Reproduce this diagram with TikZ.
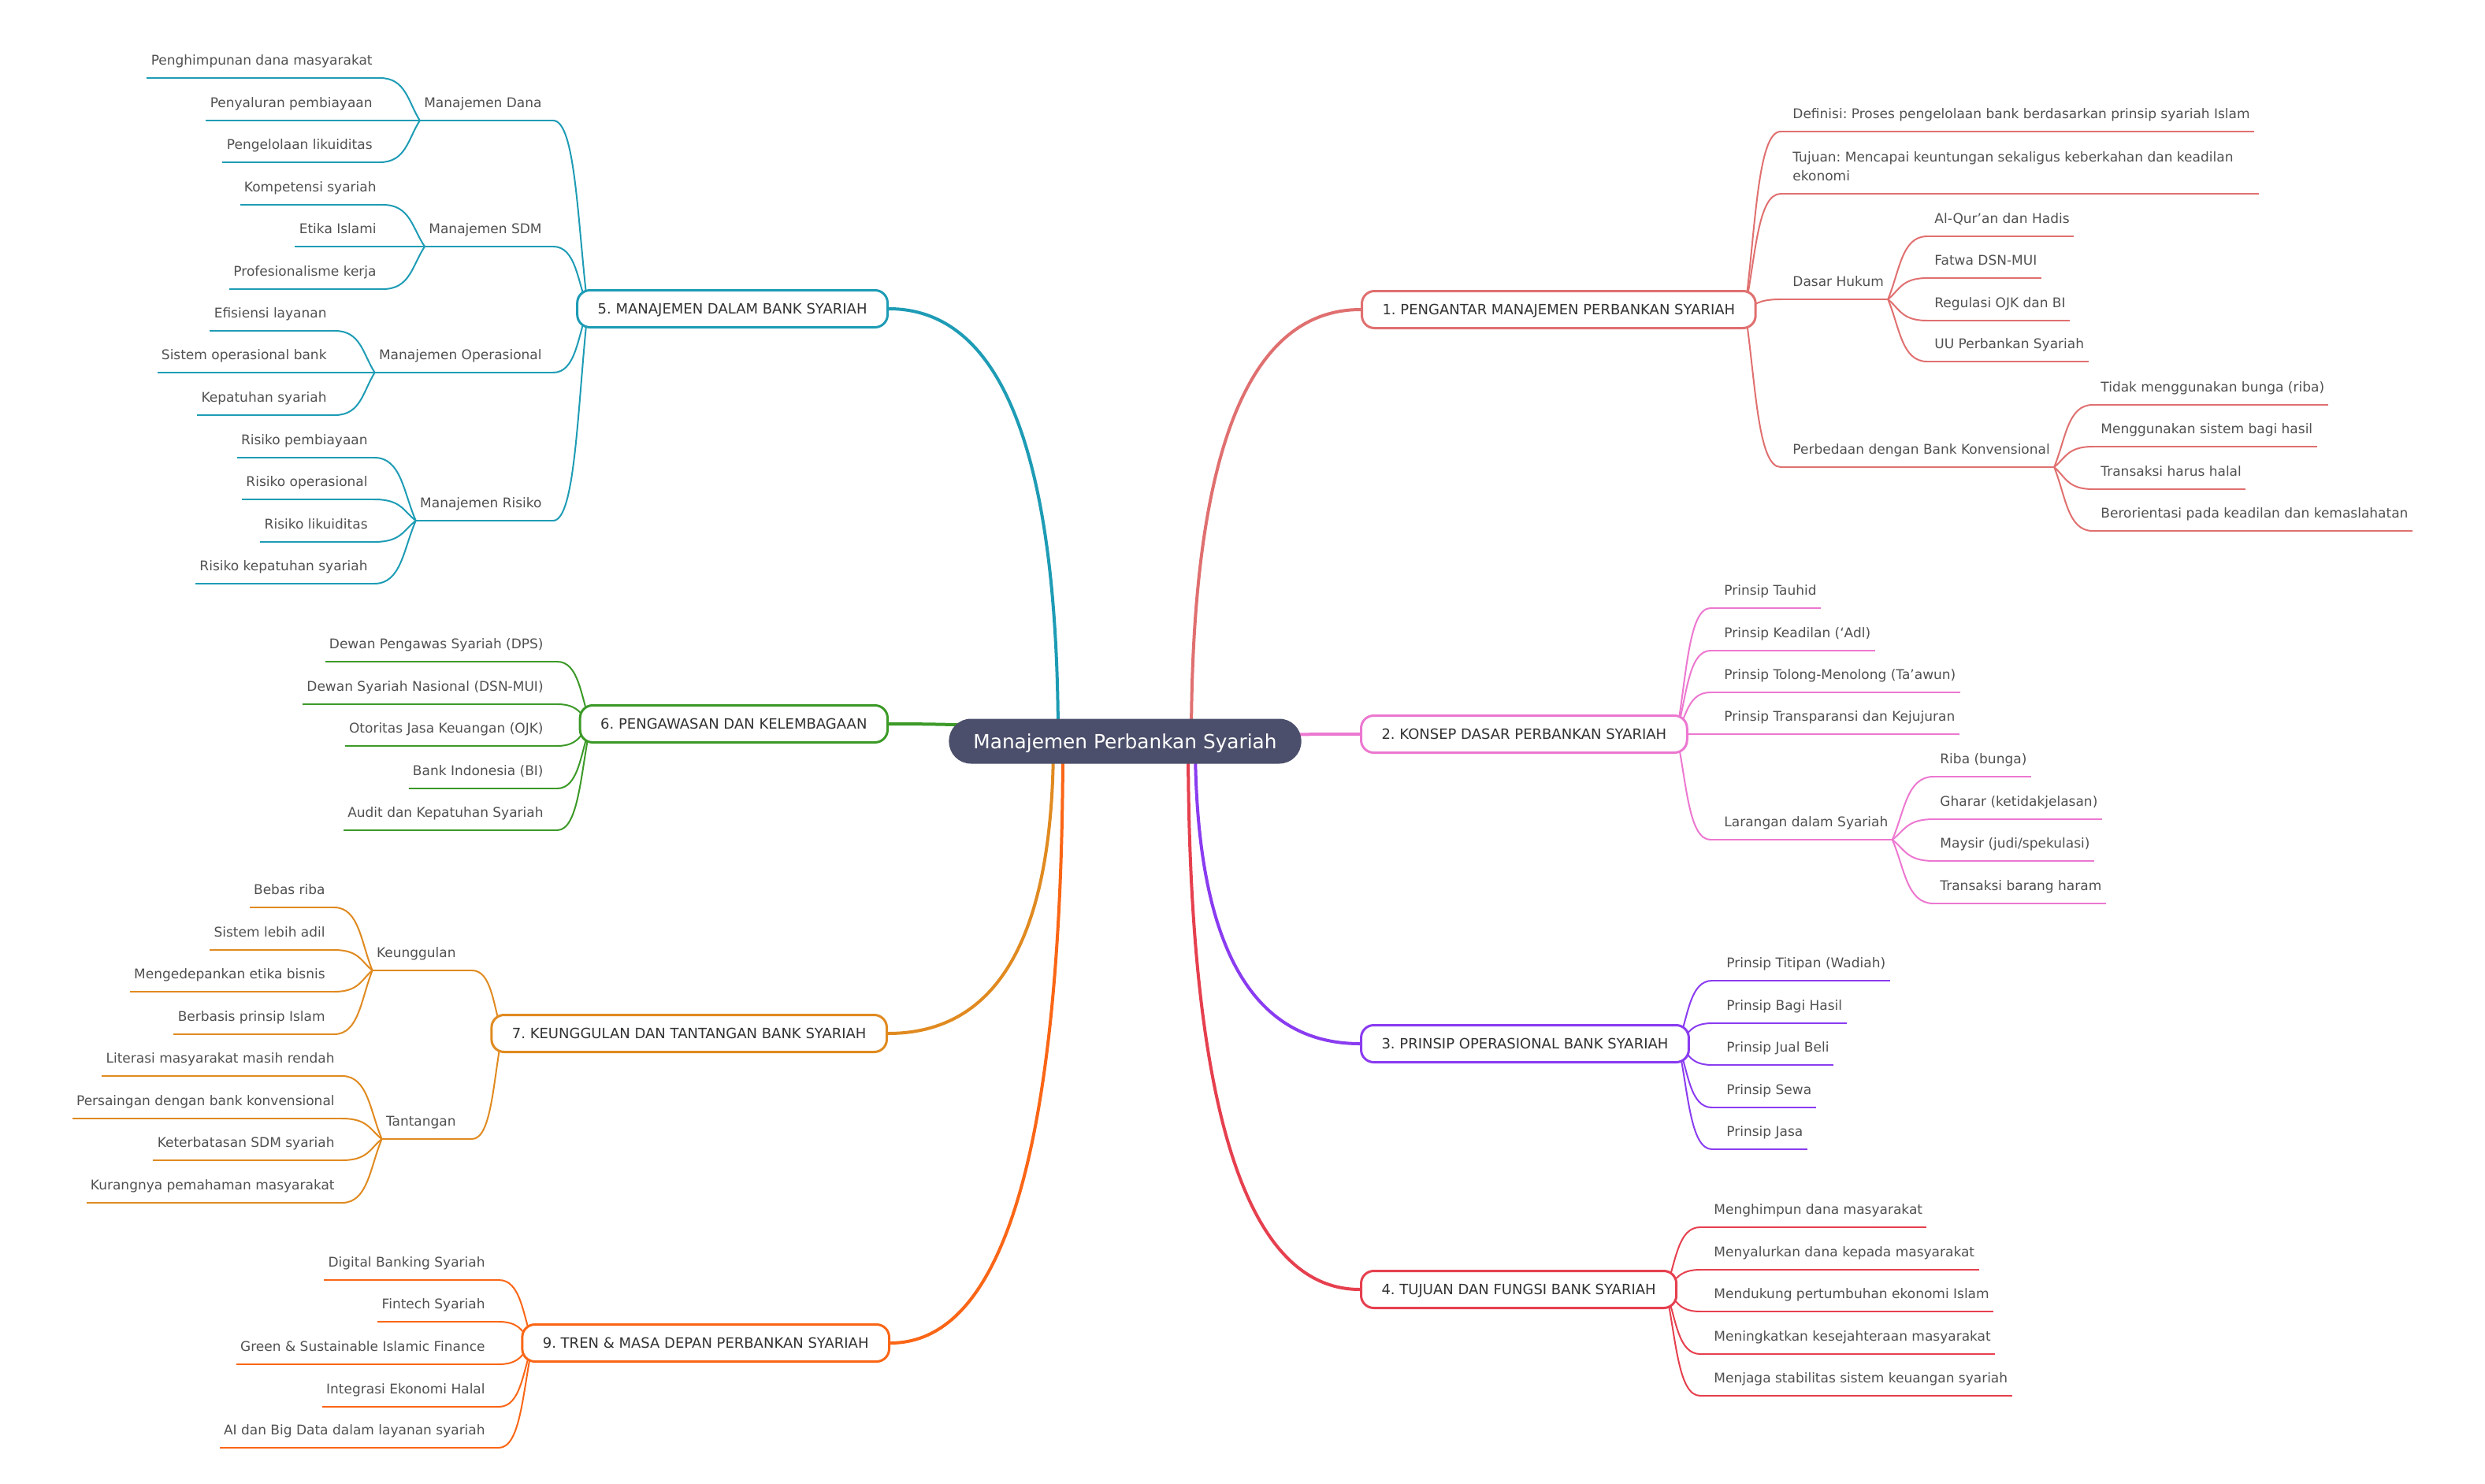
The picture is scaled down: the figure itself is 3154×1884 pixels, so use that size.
\documentclass[tikz,border=0pt]{standalone}
\usepackage{fontspec}
\setmainfont{DejaVu Sans}
\usetikzlibrary{calc}
\pgfdeclarelayer{bg}
\pgfsetlayers{bg,main}
\definecolor{cA}{HTML}{E07070}
\definecolor{cB}{HTML}{EC78D0}
\definecolor{cC}{HTML}{8A3CF0}
\definecolor{cD}{HTML}{E6404F}
\definecolor{cE}{HTML}{1E9CB5}
\definecolor{cF}{HTML}{3C9A28}
\definecolor{cG}{HTML}{E08A20}
\definecolor{cH}{HTML}{FA6616}
\definecolor{cfill}{HTML}{4B4F6B}
\definecolor{ltext}{HTML}{505050}
\definecolor{btext}{HTML}{333333}
\tikzset{
  leaf/.style={inner sep=0pt, text depth=8pt, text=ltext, font=\fontsize{8.5pt}{12pt}\selectfont},
  sub/.style={line width=1pt},
  mainline/.style={line width=2pt},
  cv/.style={to path={let \p1=(\tikztostart),\p2=(\tikztotarget) in
     .. controls ({\x1+0.3*(\x2-\x1)},{\y1+0.45*(\y2-\y1)}) and ({\x1+0.35*(\x2-\x1)},\y2) .. (\tikztotarget)}},
  mcv/.style={to path={let \p1=(\tikztostart),\p2=(\tikztotarget) in
     .. controls (\x1,{\y1+0.6667*(\y2-\y1)}) and ({\x1+0.3333*(\x2-\x1)},\y2) .. (\tikztotarget)}},
  branch/.style={draw=#1, line width=1.5pt, fill=white, rounded corners=8pt,
     minimum height=23.5pt, inner xsep=13pt, inner ysep=0pt, text height=6.56pt,
     text depth=0pt, text=btext, font=\fontsize{9pt}{11pt}\selectfont},
  central/.style={fill=cfill, text=white, rounded corners=14pt, minimum height=28.5pt,
     inner xsep=15.5pt, inner ysep=0pt, text height=9pt, text depth=0pt,
     font=\fontsize{12.4pt}{15pt}\selectfont}
}
\newcommand\leafR[7]{%
  \node[leaf,anchor=south west] (#1) at (#4,#5) {#7};
  \coordinate (#1-c) at ($(#1.south west)+(-#6,0)$);
  \coordinate (#1-e) at ($(#1.south east)+(5,0)$);
  \begin{pgfonlayer}{bg}
    \draw[#2,sub] (#1-c) -- (#1-e);
    \draw[#2,sub] (#3) to[cv] (#1-c);
  \end{pgfonlayer}}
\newcommand\leafL[7]{%
  \node[leaf,anchor=south east] (#1) at (#4,#5) {#7};
  \coordinate (#1-c) at ($(#1.south east)+(#6,0)$);
  \coordinate (#1-e) at ($(#1.south west)+(-5,0)$);
  \begin{pgfonlayer}{bg}
    \draw[#2,sub] (#1-c) -- (#1-e);
    \draw[#2,sub] (#3) to[cv] (#1-c);
  \end{pgfonlayer}}
\begin{document}
\frenchspacing
\begin{tikzpicture}[x=0.5pt,y=-0.5pt]
\useasboundingbox (0,0) rectangle (3154,1884);
% central
\node[central] (root) at (1428,941) {Manajemen Perbankan Syariah};
\coordinate (sA) at (1512,941);
\coordinate (sB) at (1512,941);
\coordinate (sC) at (1517,941);
\coordinate (sD) at (1508,941);
\coordinate (sE) at (1343,941);
\coordinate (sF) at (1343,941);
\coordinate (sG) at (1337,941);
\coordinate (sH) at (1349,941);
% branches
\node[branch=cA, anchor=west] (bA) at (1727,393) {1. PENGANTAR MANAJEMEN PERBANKAN SYARIAH};
\node[branch=cB, anchor=west] (bB) at (1726,932) {2. KONSEP DASAR PERBANKAN SYARIAH};
\node[branch=cC, anchor=west] (bC) at (1726,1325) {3. PRINSIP OPERASIONAL BANK SYARIAH};
\node[branch=cD, anchor=west] (bD) at (1726,1637) {4. TUJUAN DAN FUNGSI BANK SYARIAH};
\node[branch=cE, anchor=east] (bE) at (1128,392) {5. MANAJEMEN DALAM BANK SYARIAH};
\node[branch=cF, anchor=east] (bF) at (1128,919) {6. PENGAWASAN DAN KELEMBAGAAN};
\node[branch=cG, anchor=east] (bG) at (1127,1312) {7. KEUNGGULAN DAN TANTANGAN BANK SYARIAH};
\node[branch=cH, anchor=east] (bH) at (1130,1705) {9. TREN \& MASA DEPAN PERBANKAN SYARIAH};
\coordinate (bA-s) at ($(bA.east)+(-15,0)$);
\coordinate (bB-s) at ($(bB.east)+(-15,0)$);
\coordinate (bC-s) at ($(bC.east)+(-15,0)$);
\coordinate (bD-s) at ($(bD.east)+(-15,0)$);
\coordinate (bE-s) at ($(bE.west)+(15,0)$);
\coordinate (bF-s) at ($(bF.west)+(15,0)$);
\coordinate (bG-s) at ($(bG.west)+(15,0)$);
\coordinate (bH-s) at ($(bH.west)+(15,0)$);
\begin{pgfonlayer}{bg}
\draw[cA,mainline] (sA) to[mcv] (bA.west);
\draw[cB,mainline] (sB) to[mcv] (bB.west);
\draw[cC,mainline] (sC) to[mcv] (bC.west);
\draw[cD,mainline] (sD) to[mcv] (bD.west);
\draw[cE,mainline] (sE) to[mcv] (bE.east);
\draw[cF,mainline] (sF) to[mcv] (bF.east);
\draw[cG,mainline] (sG) to[mcv] (bG.east);
\draw[cH,mainline] (sH) to[mcv] (bH.east);
\end{pgfonlayer}
% branch 1
\leafR{nA1}{cA}{bA-s}{2275}{167}{15}{Definisi: Proses pengelolaan bank berdasarkan prinsip syariah Islam}
\leafR{nA2}{cA}{bA-s}{2275}{246}{15}{\parbox[b]{293pt}{\raggedright Tujuan: Mencapai keuntungan sekaligus keberkahan dan keadilan\\ekonomi}}
\leafR{nA3}{cA}{bA-s}{2275}{380}{15}{Dasar Hukum}
\leafR{nA31}{cA}{nA3-e}{2455}{300}{9}{Al-Qur’an dan Hadis}
\leafR{nA32}{cA}{nA3-e}{2455}{353}{9}{Fatwa DSN-MUI}
\leafR{nA33}{cA}{nA3-e}{2455}{407}{9}{Regulasi OJK dan BI}
\leafR{nA34}{cA}{nA3-e}{2455}{459}{9}{UU Perbankan Syariah}
\leafR{nA4}{cA}{bA-s}{2275}{593}{15}{Perbedaan dengan Bank Konvensional}
\leafR{nA41}{cA}{nA4-e}{2666}{514}{10}{Tidak menggunakan bunga (riba)}
\leafR{nA42}{cA}{nA4-e}{2666}{567}{10}{Menggunakan sistem bagi hasil}
\leafR{nA43}{cA}{nA4-e}{2666}{621}{10}{Transaksi harus halal}
\leafR{nA44}{cA}{nA4-e}{2666}{674}{10}{Berorientasi pada keadilan dan kemaslahatan}
% branch 2
\leafR{nB1}{cB}{bB-s}{2188}{772}{17}{Prinsip Tauhid}
\leafR{nB2}{cB}{bB-s}{2188}{826}{17}{Prinsip Keadilan (‘Adl)}
\leafR{nB3}{cB}{bB-s}{2188}{879}{17}{Prinsip Tolong-Menolong (Ta’awun)}
\leafR{nB4}{cB}{bB-s}{2188}{932}{17}{Prinsip Transparansi dan Kejujuran}
\leafR{nB5}{cB}{bB-s}{2188}{1066}{17}{Larangan dalam Syariah}
\leafR{nB51}{cB}{nB5-e}{2462}{986}{8}{Riba (bunga)}
\leafR{nB52}{cB}{nB5-e}{2462}{1040}{8}{Gharar (ketidakjelasan)}
\leafR{nB53}{cB}{nB5-e}{2462}{1093}{8}{Maysir (judi/spekulasi)}
\leafR{nB54}{cB}{nB5-e}{2462}{1147}{8}{Transaksi barang haram}
% branch 3
\leafR{nC1}{cC}{bC-s}{2191}{1245}{18}{Prinsip Titipan (Wadiah)}
\leafR{nC2}{cC}{bC-s}{2191}{1299}{18}{Prinsip Bagi Hasil}
\leafR{nC3}{cC}{bC-s}{2191}{1352}{18}{Prinsip Jual Beli}
\leafR{nC4}{cC}{bC-s}{2191}{1406}{18}{Prinsip Sewa}
\leafR{nC5}{cC}{bC-s}{2191}{1459}{18}{Prinsip Jasa}
% branch 4
\leafR{nD1}{cD}{bD-s}{2175}{1558}{17}{Menghimpun dana masyarakat}
\leafR{nD2}{cD}{bD-s}{2175}{1612}{17}{Menyalurkan dana kepada masyarakat}
\leafR{nD3}{cD}{bD-s}{2175}{1665}{17}{Mendukung pertumbuhan ekonomi Islam}
\leafR{nD4}{cD}{bD-s}{2175}{1719}{17}{Meningkatkan kesejahteraan masyarakat}
\leafR{nD5}{cD}{bD-s}{2175}{1772}{17}{Menjaga stabilitas sistem keuangan syariah}
% branch 5
\leafL{nE1}{cE}{bE-s}{688}{153}{14}{Manajemen Dana}
\leafL{nE11}{cE}{nE1-e}{473}{99}{9}{Penghimpunan dana masyarakat}
\leafL{nE12}{cE}{nE1-e}{473}{153}{9}{Penyaluran pembiayaan}
\leafL{nE13}{cE}{nE1-e}{473}{206}{9}{Pengelolaan likuiditas}
\leafL{nE2}{cE}{bE-s}{688}{313}{14}{Manajemen SDM}
\leafL{nE21}{cE}{nE2-e}{478}{260}{8}{Kompetensi syariah}
\leafL{nE22}{cE}{nE2-e}{478}{313}{8}{Etika Islami}
\leafL{nE23}{cE}{nE2-e}{478}{367}{8}{Profesionalisme kerja}
\leafL{nE3}{cE}{bE-s}{688}{473}{14}{Manajemen Operasional}
\leafL{nE31}{cE}{nE3-e}{415}{420}{10}{Efisiensi layanan}
\leafL{nE32}{cE}{nE3-e}{415}{473}{10}{Sistem operasional bank}
\leafL{nE33}{cE}{nE3-e}{415}{527}{10}{Kepatuhan syariah}
\leafL{nE4}{cE}{bE-s}{688}{661}{14}{Manajemen Risiko}
\leafL{nE41}{cE}{nE4-e}{467}{581}{8}{Risiko pembiayaan}
\leafL{nE42}{cE}{nE4-e}{467}{634}{8}{Risiko operasional}
\leafL{nE43}{cE}{nE4-e}{467}{688}{8}{Risiko likuiditas}
\leafL{nE44}{cE}{nE4-e}{467}{741}{8}{Risiko kepatuhan syariah}
% branch 6
\leafL{nF1}{cF}{bF-s}{690}{840}{17}{Dewan Pengawas Syariah (DPS)}
\leafL{nF2}{cF}{bF-s}{690}{894}{17}{Dewan Syariah Nasional (DSN-MUI)}
\leafL{nF3}{cF}{bF-s}{690}{947}{17}{Otoritas Jasa Keuangan (OJK)}
\leafL{nF4}{cF}{bF-s}{690}{1001}{17}{Bank Indonesia (BI)}
\leafL{nF5}{cF}{bF-s}{690}{1054}{17}{Audit dan Kepatuhan Syariah}
% branch 7
\leafL{nG1}{cG}{bG-s}{579}{1232}{20}{Keunggulan}
\leafL{nG11}{cG}{nG1-e}{413}{1152}{11}{Bebas riba}
\leafL{nG12}{cG}{nG1-e}{413}{1206}{11}{Sistem lebih adil}
\leafL{nG13}{cG}{nG1-e}{413}{1259}{11}{Mengedepankan etika bisnis}
\leafL{nG14}{cG}{nG1-e}{413}{1313}{11}{Berbasis prinsip Islam}
\leafL{nG2}{cG}{bG-s}{579}{1446}{20}{Tantangan}
\leafL{nG21}{cG}{nG2-e}{425}{1366}{9}{Literasi masyarakat masih rendah}
\leafL{nG22}{cG}{nG2-e}{425}{1420}{9}{Persaingan dengan bank konvensional}
\leafL{nG23}{cG}{nG2-e}{425}{1473}{9}{Keterbatasan SDM syariah}
\leafL{nG24}{cG}{nG2-e}{425}{1527}{9}{Kurangnya pemahaman masyarakat}
% branch 9
\leafL{nH1}{cH}{bH-s}{616}{1625}{17}{Digital Banking Syariah}
\leafL{nH2}{cH}{bH-s}{616}{1678}{17}{Fintech Syariah}
\leafL{nH3}{cH}{bH-s}{616}{1732}{17}{Green \& Sustainable Islamic Finance}
\leafL{nH4}{cH}{bH-s}{616}{1786}{17}{Integrasi Ekonomi Halal}
\leafL{nH5}{cH}{bH-s}{616}{1838}{17}{AI dan Big Data dalam layanan syariah}
\end{tikzpicture}
\end{document}
